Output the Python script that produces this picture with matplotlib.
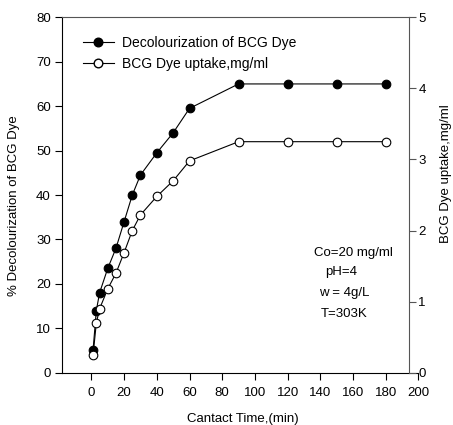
import matplotlib
matplotlib.use("Agg")
import matplotlib.pyplot as plt
from matplotlib.lines import Line2D

plt.rcParams['font.family'] = ['Liberation Sans', 'DejaVu Sans']

time_min = [1, 3, 5, 10, 15, 20, 25, 30, 40, 50, 60, 90, 120, 150, 180]
decolourization = [5.1, 14.0, 18.0, 23.5, 28.0, 34.0, 40.0, 44.5, 49.5, 54.0, 59.5, 65.0, 65.0, 65.0, 65.0]
uptake = [0.25, 0.70, 0.90, 1.18, 1.40, 1.69, 2.00, 2.22, 2.48, 2.70, 2.98, 3.25, 3.25, 3.25, 3.25]
x_ticks = [0, 20, 40, 60, 80, 100, 120, 140, 160, 180, 200]
left_ticks = [0, 10, 20, 30, 40, 50, 60, 70, 80]
right_ticks = [0, 1, 2, 3, 4, 5]
legend_labels = ["Decolourization of BCG Dye", "BCG Dye uptake,mg/ml"]
conditions = ["Co=20 mg/ml", "pH=4", "w = 4g/L", "T=303K"]

W, H = 453, 425
fig = plt.figure(figsize=(W / 100, H / 100), dpi=100)
L, R, T, B = 62, 418.4, 17.3, 372.7
ax = fig.add_axes([L / W, 1 - B / H, (R - L) / W, (B - T) / H])
ax2 = ax.twinx()

XMIN, XMAX, XRSP = -18, 200, 194
ax.set_xlim(XMIN, XMAX)
ax.set_ylim(0, 80)
ax2.set_ylim(0, 5)

lw = 0.8
ax.plot(time_min, decolourization, '-o', color='black', lw=lw, ms=6.2,
        mfc='black', mec='black', mew=0.8, clip_on=False, zorder=3)
ax2.plot(time_min, uptake, '-o', color='black', lw=lw, ms=6.2,
         mfc='white', mec='black', mew=0.8, clip_on=False, zorder=3)

ax.set_xticks(x_ticks)
ax.set_yticks(left_ticks)
ax2.set_yticks(right_ticks)

for a in (ax, ax2):
    for s in a.spines.values():
        s.set_linewidth(lw)
        s.set_color('black')
ax.spines['right'].set_visible(False)
ax.spines['top'].set_bounds(XMIN, XRSP)
ax2.spines['left'].set_visible(False)
ax2.spines['top'].set_visible(False)
ax2.spines['bottom'].set_visible(False)
ax2.spines['right'].set_position(('data', XRSP))
ax2.spines['right'].set_color('#555555')
ax.spines['top'].set_color('#555555')

ax.tick_params(axis='both', direction='out', length=5, width=lw, labelsize=9.5, pad=3)
ax.tick_params(axis='x', pad=5)
ax2.tick_params(axis='y', direction='out', length=5, width=lw, labelsize=9.5, pad=2, colors='black')
ax2.tick_params(axis='y', color='#555555')

handles = [
    Line2D([], [], color='black', lw=lw, marker='o', ms=6.2, mfc='black', mec='black'),
    Line2D([], [], color='black', lw=lw, marker='o', ms=6.2, mfc='white', mec='black'),
]
fig.legend(handles, legend_labels, loc='upper left', frameon=False, fontsize=10,
           bbox_to_anchor=(83 / W, 1 - 35.5 / H), borderpad=0, borderaxespad=0,
           handlelength=2.2, handletextpad=0.6, labelspacing=0.52)

fig.text(242.5 / W, 1 - 419 / H, "Cantact Time,(min)", ha='center', va='center', fontsize=9.5)
fig.text(14 / W, 1 - 206 / H, "% Decolourization of BCG Dye", ha='center', va='center',
         rotation=90, fontsize=9.5)
fig.text(446.5 / W, 1 - 174 / H, "BCG Dye uptake,mg/ml", ha='center', va='center',
         rotation=90, fontsize=9.5)

cond_pos = [(353.8, 252.7), (340.8, 272.3), (344.5, 293.3), (344.0, 314.0)]
for txt, (px, py) in zip(conditions, cond_pos):
    fig.text(px / W, 1 - py / H, txt, ha='center', va='center', fontsize=9.5)

fig.savefig("out.png", dpi=100)
